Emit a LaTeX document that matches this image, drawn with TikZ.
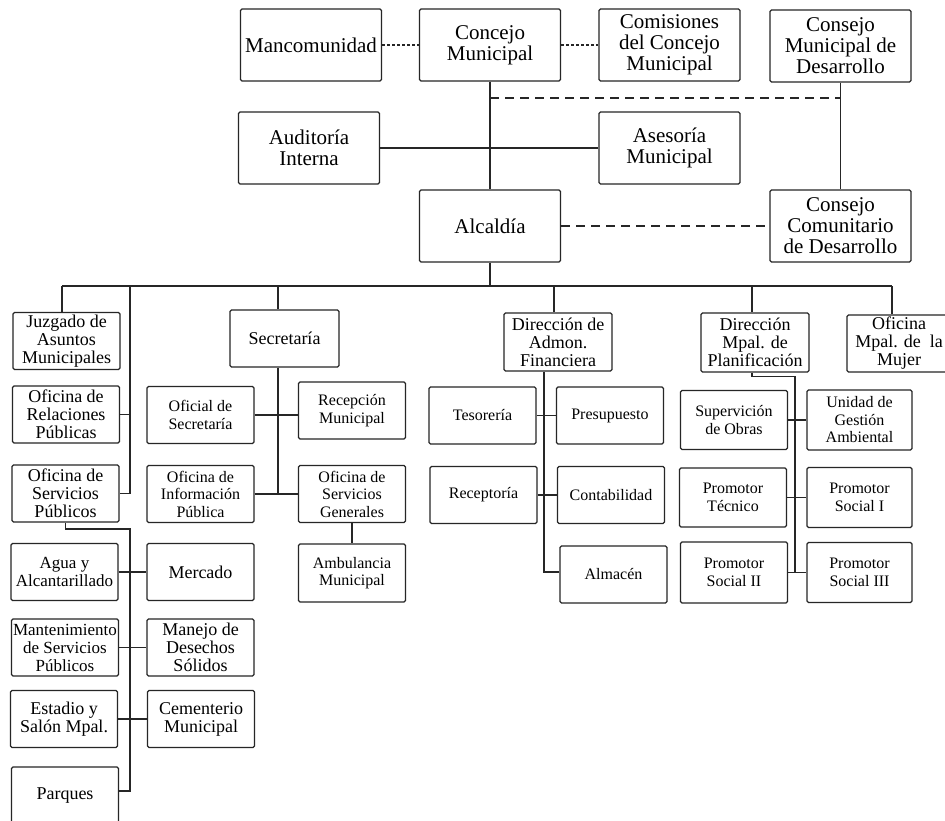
\documentclass[tikz,border=0pt]{standalone}
\usepackage{fontspec}
\setmainfont{Liberation Serif}
\usepackage{tikz}

\newcommand{\fbig}{\fontsize{21}{21}\selectfont}
\newcommand{\fmid}{\fontsize{18}{18}\selectfont}
\newcommand{\fnarrow}{\fontsize{17}{18}\selectfont}
\newcommand{\fsmall}{\fontsize{16}{17.5}\selectfont}

\tikzset{
  unit/.style={draw=black!85, line width=1.1pt, rounded corners=1.5pt, align=center, inner sep=0pt, text=black},
  topunit/.style={unit, minimum width=141pt, minimum height=72pt, font=\fbig},
  midunit/.style={unit, minimum width=107pt, minimum height=57pt, font=\fmid},
  subunit/.style={unit, minimum width=107pt, minimum height=57pt, font=\fsmall},
  link/.style={draw=black!85, line width=1.1pt},
  loose/.style={link, dash pattern=on 3pt off 2pt},
  advise/.style={link, dash pattern=on 9pt off 6pt},
}

\begin{document}
\begin{tikzpicture}[x=1pt,y=-1pt]
\path[use as bounding box, fill=white] (0,0) rectangle (945,821);

\node[topunit] (manc) at (311,45) {Mancomunidad};
\node[topunit] (concejo) at (490,45) {Concejo\\Municipal};
\node[topunit] (comis) at (669.5,45) {Comisiones\\del Concejo\\Municipal};
\node[topunit] (cmd) at (840.5,46) {Consejo\\Municipal de\\Desarrollo};
\node[topunit] (audit) at (309,148) {Auditoría\\Interna};
\node[topunit] (asesor) at (669.5,148) {Asesoría\\Municipal};
\node[topunit] (alcaldia) at (490,226) {Alcaldía};
\node[topunit] (ccd) at (840.5,226) {Consejo\\Comunitario\\de Desarrollo};

\draw[loose] (manc) -- (concejo);
\draw[loose] (concejo) -- (comis);
\draw[link] (concejo) -- (alcaldia);
\draw[link] (audit) -- (asesor);
\draw[advise] (concejo.south |- 0,98) -- (cmd.south |- 0,98);
\draw[link] (cmd) -- (ccd);
\draw[advise] (alcaldia) -- (ccd);

% bus under the mayor
\coordinate (d1) at (62,286);
\coordinate (d2) at (130,286);
\coordinate (d3) at (278,286);
\coordinate (d4) at (554,286);
\coordinate (d5) at (752,286);
\coordinate (d6) at (892,286);
\draw[link] (alcaldia) -- (alcaldia |- d1);
\draw[link] (d1) -- (d6);

\node[midunit] (juzgado) at (66.5,341) {Juzgado de\\Asuntos\\Municipales};
\node[midunit] (relac) at (66,414.5) {Oficina de\\Relaciones\\Públicas};
\node[midunit] (spub) at (65.5,493.5) {Oficina de\\Servicios\\Públicos};
\node[midunit, font=\fnarrow] (agua) at (64.5,572) {Agua y\\Alcantarillado};
\node[midunit] (mercado) at (200.5,572) {Mercado};
\node[midunit, font=\fnarrow] (mant) at (65,647.5) {Mantenimiento\\de Servicios\\Públicos};
\node[midunit] (manejo) at (200.5,647.5) {Manejo de\\Desechos\\Sólidos};
\node[midunit] (estadio) at (64,719) {Estadio y\\Salón Mpal.};
\node[midunit] (cement) at (201,719) {Cementerio\\Municipal};
\node[midunit, minimum height=58pt] (parq) at (65,796) {Parques};

\draw[link] (d1) -- (d1 |- juzgado.north);
\draw[link] (d2) |- (spub.east);
\draw[link] (relac.east) -- (relac.east -| d2);
\coordinate (pubturn) at (130,529);
\draw[link] (spub.south) |- (pubturn) |- ([yshift=5pt]parq.east);
\draw[link] (agua) -- (mercado);
\draw[link] (mant) -- (manejo);
\draw[link] (estadio) -- (cement);

\node[midunit, minimum width=109pt] (secret) at (284.5,338.5) {Secretaría};
\node[subunit] (ofsec) at (200.5,415) {Oficial de\\Secretaría};
\node[subunit] (recep) at (352,410.5) {Recepción\\Municipal};
\node[subunit] (info) at (200.5,494) {Oficina de\\Información\\Pública};
\node[subunit] (sgen) at (352,494) {Oficina de\\Servicios\\Generales};
\node[subunit, minimum height=58pt] (ambul) at (352,573) {Ambulancia\\Municipal};

\draw[link] (d3) -- (d3 |- secret.north);
\draw[link] (d3 |- secret.south) -- (d3 |- info.east);
\draw[link] (ofsec.east) -- (ofsec.east -| recep.west);
\draw[link] (info) -- (sgen);
\draw[link] (sgen) -- (ambul);

\node[midunit, minimum width=108pt, minimum height=58pt] (dfin) at (558,342) {Dirección de\\Admon.\\Financiera};
\node[subunit] (tesor) at (482.5,415.5) {Tesorería};
\node[subunit] (presup) at (610,415.5) {Presupuesto};
\node[subunit] (recept) at (483.5,495) {Receptoría};
\node[subunit] (contab) at (611,495) {Contabilidad};
\node[subunit] (almacen) at (613.5,574.5) {Almacén};

\draw[link] (d4) -- (d4 |- dfin.north);
\coordinate (fs) at (544,572);
\draw[link] (fs |- dfin.south) -- (fs) -- (fs -| almacen.west);
\draw[link] (tesor) -- (presup);
\draw[link] (recept) -- (contab);

\node[midunit, minimum width=108pt, minimum height=59pt] (dplan) at (755,342.5) {Dirección\\Mpal. de\\Planificación};
\node[subunit, minimum height=59pt] (superv) at (734,420) {Supervición\\de Obras};
\node[subunit, minimum width=105pt, minimum height=60pt] (unidad) at (859.5,420) {Unidad de\\Gestión\\Ambiental};
\node[subunit, minimum height=59pt] (ptec) at (733,497.5) {Promotor\\Técnico};
\node[subunit, minimum width=105pt, minimum height=60pt] (psoc1) at (859.5,497.5) {Promotor\\Social I};
\node[subunit, minimum height=61pt] (psoc2) at (734,572.5) {Promotor\\Social II};
\node[subunit, minimum width=105pt, minimum height=60pt] (psoc3) at (859.5,572.5) {Promotor\\Social III};

\draw[link] (d5) -- (d5 |- dplan.north);
\coordinate (ps) at (795,572.5);
\draw[link] (d5 |- dplan.south) -- ++(0,4) -| (ps);
\draw[link] (superv) -- (unidad);
\draw[link] (ptec) -- (psoc1);
\draw[link] (psoc2) -- (psoc3);

\node[midunit, minimum width=104pt] (mujer) at (899,343.5) {Oficina\\Mpal. de~ la\\Mujer};
\draw[link] (d6) -- (d6 |- mujer.north);
\end{tikzpicture}
\end{document}
